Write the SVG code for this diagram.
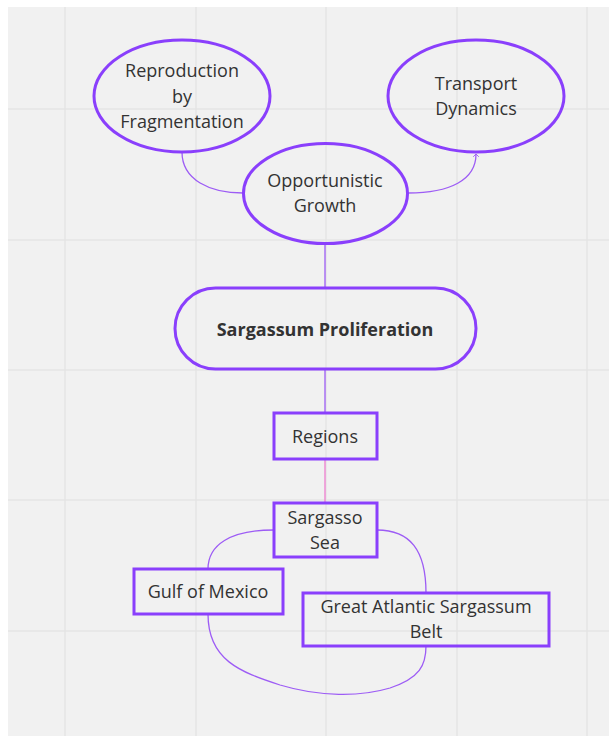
<svg xmlns="http://www.w3.org/2000/svg" width="609" height="736" viewBox="0 0 609 736">
<defs>
<style>
.node{fill:none;stroke:#8a3ffc;stroke-width:3}
.txt{font-family:"Open Sans","Noto Sans","Liberation Sans",sans-serif;font-size:18px;fill:#333;text-anchor:middle;dominant-baseline:central}
.bold{font-weight:bold}
.conn{fill:none;stroke:#9d5cf5;stroke-width:1.3}
.grid{stroke:#e4e4e4;stroke-width:1.5}
</style>
<marker id="arr" viewBox="0 0 10 10" refX="5" refY="5" markerWidth="7" markerHeight="7" orient="auto-start-reverse" markerUnits="userSpaceOnUse">
<path d="M1,1 L5,5 L1,9" fill="none" stroke="#9d5cf5" stroke-width="1.3"/>
</marker>
</defs>
<rect x="0" y="0" width="609" height="736" fill="#ffffff"/>
<rect x="8" y="7" width="601" height="729" fill="#f1f1f1"/>
<g id="grid">
<line class="grid" x1="65" y1="7" x2="65" y2="736"/>
<line class="grid" x1="196" y1="7" x2="196" y2="736"/>
<line class="grid" x1="326" y1="7" x2="326" y2="736"/>
<line class="grid" x1="457" y1="7" x2="457" y2="736"/>
<line class="grid" x1="587" y1="7" x2="587" y2="736"/>
<line class="grid" x1="8" y1="109" x2="609" y2="109"/>
<line class="grid" x1="8" y1="240" x2="609" y2="240"/>
<line class="grid" x1="8" y1="370" x2="609" y2="370"/>
<line class="grid" x1="8" y1="500" x2="609" y2="500"/>
<line class="grid" x1="8" y1="631" x2="609" y2="631"/>
</g>
<g id="connectors">
<path class="conn" d="M182,152 C182,180 210,193 243,193"/>
<path class="conn" d="M408,193 C450,193 476,180 476,154" marker-end="url(#arr)"/>
<line class="conn" x1="325" y1="244" x2="325" y2="288"/>
<line class="conn" x1="325" y1="369" x2="325" y2="413"/>
<line class="conn" x1="325" y1="459" x2="325" y2="503" style="stroke:#ef7fd0"/>
<path class="conn" d="M274,530 C230,530 208,545 208,569"/>
<path class="conn" d="M377,530 C410,530 426,550 426,593"/>
<path class="conn" d="M208,614 C208,660 240,672 280,685 C320,697 360,697 390,688 C420,678 426,665 426,646"/>
</g>
<g id="reproduction">
<ellipse class="node" cx="182" cy="96" rx="88" ry="56"/>
<text class="txt" x="182" y="70">Reproduction</text>
<text class="txt" x="182" y="96">by</text>
<text class="txt" x="182" y="121">Fragmentation</text>
</g>
<g id="transport">
<ellipse class="node" cx="476" cy="96" rx="88" ry="56"/>
<text class="txt" x="476" y="83">Transport</text>
<text class="txt" x="476" y="108">Dynamics</text>
</g>
<g id="opportunistic">
<ellipse class="node" cx="325.5" cy="193.5" rx="82" ry="50"/>
<text class="txt" x="325" y="180">Opportunistic</text>
<text class="txt" x="325" y="205">Growth</text>
</g>
<g id="sargassum">
<rect class="node" x="175" y="288" width="301" height="81" rx="40.5"/>
<text class="txt bold" x="325" y="329">Sargassum Proliferation</text>
</g>
<g id="regions">
<rect class="node" x="274" y="413" width="103" height="46"/>
<text class="txt" x="325" y="436">Regions</text>
</g>
<g id="sargasso">
<rect class="node" x="274" y="503" width="103" height="54"/>
<text class="txt" x="325" y="517">Sargasso</text>
<text class="txt" x="325" y="542">Sea</text>
</g>
<g id="gulf">
<rect class="node" x="134" y="569" width="149" height="45"/>
<text class="txt" x="208" y="591">Gulf of Mexico</text>
</g>
<g id="belt">
<rect class="node" x="303" y="593" width="246" height="53"/>
<text class="txt" x="426" y="606">Great Atlantic Sargassum</text>
<text class="txt" x="426" y="631">Belt</text>
</g>
</svg>
